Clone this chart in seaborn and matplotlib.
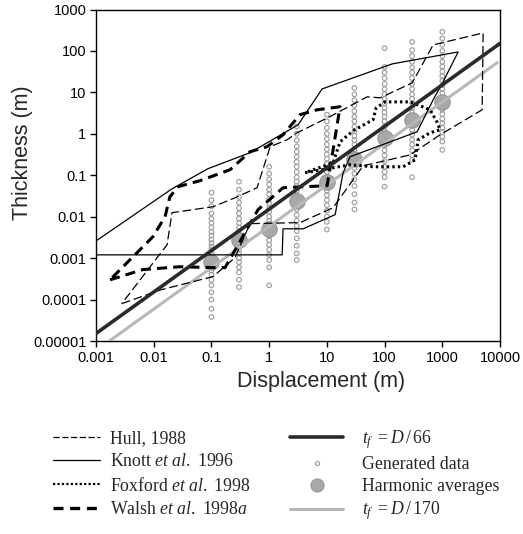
import pandas as pd
import seaborn as sns
import matplotlib.pyplot as plt
from matplotlib.lines import Line2D
from matplotlib.ticker import NullLocator

# envelopes of published data (displacement m, thickness m)
hull_d = [0.0028, 0.0129, 0.107, 0.256, 0.466, 3.43, 12.8, 42.4, 277, 916, 4900, 5100, 693,
          300, 83.6, 49.7, 11.3, 3.05, 2.04, 1.04, 0.617, 0.278, 0.107, 0.0207, 0.017, 0.0028]
hull_t = [0.00008, 0.00017, 0.00036, 0.00103, 0.0068, 0.0072, 0.0165, 0.169, 0.31, 0.95, 3.8, 272, 140,
          16.9, 7.4, 7.8, 2.6, 1.06, 0.72, 0.49, 0.050, 0.030, 0.0174, 0.0125, 0.0021, 0.00008]

knott_d = [0.001, 0.0207, 0.087, 0.466, 3.17, 8.26, 135, 1880, 1030, 693, 366, 25.2, 19.1,
           13.9, 3.87, 1.74, 1.68, 0.001, 0.001]
knott_t = [0.0026, 0.047, 0.144, 0.35, 1.65, 12.1, 48.6, 94.6, 17.9, 6.6, 1.12, 0.28, 0.115,
           0.0112, 0.0051, 0.0051, 0.0012, 0.0012, 0.0026]

foxford_d = [4.19, 12.8, 25.2, 63.2, 209, 338, 381, 615, 916, 813, 615, 277, 102, 71.3, 63.2,
             28.4, 16.9, 12.8, 4.19]
foxford_t = [0.115, 0.152, 0.179, 0.160, 0.160, 0.236, 0.72, 1.06, 1.25, 1.9, 3.8, 5.9, 5.9, 4.2, 2.2,
             1.18, 0.64, 0.20, 0.115]

walsh_d = [0.00175, 0.0065, 0.0286, 0.107, 0.172, 0.278, 0.642, 1.74, 10.1, 12.8, 16.9, 6.76,
           3.43, 1.74, 0.92, 0.466, 0.21, 0.0634, 0.0264, 0.019, 0.0157, 0.0097, 0.0044, 0.00175]
walsh_t = [0.0003, 0.00053, 0.00062, 0.00059, 0.00059, 0.0019, 0.0148, 0.050, 0.056, 0.41, 4.5, 3.8,
           2.9, 0.95, 0.49, 0.37, 0.136, 0.074, 0.053, 0.030, 0.010, 0.0033, 0.00109, 0.0003]

# generated data columns
gen_cols = [0.1, 0.3, 1, 3, 10, 30, 100, 300, 1000]
gen_01 = [0.038, 0.025, 0.018, 0.012, 0.009, 0.007, 0.0055, 0.0043, 0.0035, 0.0028, 0.0023, 0.0019,
          0.0016, 0.0013, 0.0011, 0.0009, 0.00075, 0.0006, 0.0005, 0.0004, 0.0003, 0.00022, 0.00015,
          0.0001, 0.00006, 0.000038]
gen_03 = [0.07, 0.045, 0.03, 0.022, 0.016, 0.012, 0.009, 0.007, 0.0055, 0.0045, 0.0037, 0.003,
          0.0025, 0.002, 0.0016, 0.0013, 0.001, 0.0008, 0.0006, 0.00045, 0.0003, 0.0002]
gen_1 = [0.16, 0.11, 0.08, 0.06, 0.045, 0.035, 0.027, 0.021, 0.016, 0.013, 0.01, 0.008, 0.0065,
         0.0052, 0.0042, 0.0034, 0.0027, 0.0021, 0.0016, 0.0012, 0.0009, 0.0006, 0.00022]
gen_3 = [1.5, 1.0, 0.7, 0.5, 0.37, 0.28, 0.21, 0.16, 0.12, 0.09, 0.07, 0.055, 0.042, 0.033, 0.026,
         0.02, 0.015, 0.011, 0.008, 0.006, 0.0045, 0.003, 0.002, 0.0013, 0.0009]
gen_10 = [2.9, 2.0, 1.4, 1.0, 0.75, 0.55, 0.42, 0.32, 0.25, 0.19, 0.15, 0.12, 0.09, 0.07, 0.055,
          0.042, 0.033, 0.025, 0.019, 0.014, 0.01, 0.0075, 0.0049]
gen_30 = [12.8, 9, 6.5, 4.8, 3.5, 2.6, 2.0, 1.5, 1.15, 0.9, 0.7, 0.55, 0.42, 0.33, 0.26, 0.2, 0.15,
          0.11, 0.08, 0.055, 0.035, 0.022, 0.015]
gen_100 = [117, 41, 30, 22, 16, 12, 9, 7, 5.5, 4.2, 3.3, 2.6, 2.0, 1.5, 1.15, 0.9, 0.7, 0.52, 0.4,
           0.3, 0.22, 0.16, 0.12, 0.09, 0.053]
gen_300 = [165, 105, 75, 55, 40, 30, 22, 16, 12, 9, 7, 5.5, 4.2, 3.3, 2.6, 2.0, 1.6, 1.25, 0.95,
           0.72, 0.55, 0.4, 0.3, 0.236, 0.09]
gen_1000 = [290, 200, 140, 100, 75, 55, 42, 32, 25, 19, 15, 12, 9.5, 7.5, 6, 4.8, 3.8, 3, 2.3, 1.8,
            1.4, 1.1, 0.85, 0.65, 0.41]

harm_d = [0.1, 0.3, 1, 3, 10, 30, 100, 300, 1000]
harm_t = [0.0008, 0.0028, 0.005, 0.024, 0.068, 0.25, 0.8, 2.2, 5.8]

fit66_d = [0.001, 10000]
fit66_t = [1.52e-5, 152]
fit170_d = [0.0017, 8900]
fit170_t = [1.0e-5, 52]

xticks = [0.001, 0.01, 0.1, 1, 10, 100, 1000, 10000]
xlabels = ['0.001', '0.01', '0.1', '1', '10', '100', '1000', '10000']
yticks = [1e-5, 1e-4, 1e-3, 1e-2, 0.1, 1, 10, 100, 1000]
ylabels = ['0.00001', '0.0001', '0.001', '0.01', '0.1', '1', '10', '100', '1000']

sns.set_style('ticks')
plt.rcParams['font.family'] = ['Liberation Sans', 'DejaVu Sans']
plt.rcParams['mathtext.fontset'] = 'custom'
plt.rcParams['mathtext.rm'] = 'Liberation Serif'
plt.rcParams['mathtext.it'] = 'Liberation Serif:italic'

fig = plt.figure(figsize=(5.23, 5.34), dpi=100)
ax = fig.add_axes([0.1836, 0.3614, 0.7725, 0.6208])

cols = [gen_01, gen_03, gen_1, gen_3, gen_10, gen_30, gen_100, gen_300, gen_1000]
gen = pd.concat([pd.DataFrame({'d': d, 't': v}) for d, v in zip(gen_cols, cols)])
sns.scatterplot(data=gen, x='d', y='t', marker='o', s=11, facecolor='none', edgecolor='#9a9a9a',
                linewidth=0.8, ax=ax, legend=False, zorder=1)
sns.scatterplot(x=harm_d, y=harm_t, s=125, color='#a8a8a8', edgecolor='#8c8c8c', linewidth=0.6,
                ax=ax, legend=False, zorder=2)

sns.lineplot(x=fit170_d, y=fit170_t, color='#b8b8b8', lw=2.2, ax=ax, zorder=3)
sns.lineplot(x=hull_d, y=hull_t, sort=False, estimator=None, color='k', lw=0.9,
             linestyle=(0, (7, 3)), ax=ax, zorder=4)
sns.lineplot(x=knott_d, y=knott_t, sort=False, estimator=None, color='k', lw=0.9, ax=ax, zorder=4)
sns.lineplot(x=foxford_d, y=foxford_t, sort=False, estimator=None, color='k', lw=2.2,
             linestyle=(0, (0.8, 1.0)), ax=ax, zorder=4)
sns.lineplot(x=walsh_d, y=walsh_t, sort=False, estimator=None, color='k', lw=2.2,
             linestyle=(0, (3.3, 2)), ax=ax, zorder=4)
sns.lineplot(x=fit66_d, y=fit66_t, color='#2a2a2a', lw=2.6, ax=ax, zorder=5)

ax.set_xscale('log')
ax.set_yscale('log')
ax.set_xlim(0.001, 10000)
ax.set_ylim(1e-5, 1000)
ax.set_xticks(xticks, labels=xlabels)
ax.set_yticks(yticks, labels=ylabels)
ax.xaxis.set_minor_locator(NullLocator())
ax.yaxis.set_minor_locator(NullLocator())
ax.tick_params(direction='out', length=4, width=1, labelsize=10.5, pad=3, colors='k')
for s in ax.spines.values():
    s.set_linewidth(1.0)
    s.set_color('k')

ax.set_xlabel('Displacement (m)', fontsize=15.5)
ax.set_ylabel('Thickness (m)', fontsize=15.5)
ax.xaxis.set_label_coords(0.557, -0.09)
ax.yaxis.set_label_coords(-0.156, 0.569)

leg_font = {'family': 'Liberation Serif', 'size': 12.8}
left_h = [Line2D([], [], color='k', lw=0.9, ls=(0, (5, 2))),
          Line2D([], [], color='k', lw=0.9),
          Line2D([], [], color='k', lw=1.6, ls=(0, (1, 1))),
          Line2D([], [], color='k', lw=2.4, ls=(0, (3, 2)))]
left_l = ['Hull, 1988', r'Knott $\mathit{et\ al.}$ 1996', r'Foxford $\mathit{et\ al.}$ 1998',
          r'Walsh $\mathit{et\ al.}$ 1998$\mathit{a}$']
right_h = [Line2D([], [], color='#2a2a2a', lw=2.6),
           Line2D([], [], color='#9a9a9a', marker='o', ms=3, mfc='none', mew=0.8, ls='none'),
           Line2D([], [], color='#a8a8a8', marker='o', ms=9.5, mec='#8c8c8c', mew=0.6, ls='none'),
           Line2D([], [], color='#b8b8b8', lw=2.2)]
right_l = [r'$t_f\ = D\,/\,66$', 'Generated data', 'Harmonic averages', r'$t_f\ = D\,/\,170$']

leg_kw = dict(loc='upper left', frameon=False, prop=leg_font, borderpad=0, borderaxespad=0)
fig.legend(left_h, left_l, bbox_to_anchor=(0.101, 0.195), handlelength=2.64,
           handletextpad=0.56, labelspacing=0.36, **leg_kw)
fig.legend(right_h, right_l, bbox_to_anchor=(0.5545, 0.198), handlelength=3.0,
           handletextpad=1.07, labelspacing=0.27, **leg_kw)

fig.savefig('out.png', dpi=100)
